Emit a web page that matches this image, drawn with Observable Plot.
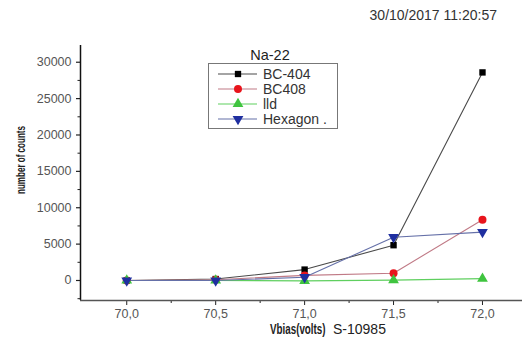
<!DOCTYPE html>
<html><head><meta charset="utf-8">
<script src="https://cdn.jsdelivr.net/npm/d3@7"></script>
<script src="https://cdn.jsdelivr.net/npm/@observablehq/plot@0.6"></script>
<style>
body{margin:0;background:#fff;}
#wrap{position:relative;width:522px;height:339px;overflow:hidden;font-family:"Liberation Sans",Arial,sans-serif;}
</style></head>
<body><div id="wrap"></div>
<script>
const vbias = [70.0, 70.5, 71.0, 71.5, 72.0];
const bc404 = [0, 200, 1500, 4850, 28600];
const bc408 = [0, 100, 700, 1000, 8350];
const lld = [0, 0, -50, 50, 250];
const hexagon = [0, 0, 450, 5950, 6650];
const seriesNames = ["BC-404", "BC408", "lld", "Hexagon ."];
const seriesValues = [bc404, bc408, lld, hexagon];
const markerColors = ["#000000", "#e8141c", "#3fc43f", "#1f2fa0"];
const lineColors = ["#4a4a4a", "#c07a86", "#5fcf5f", "#6570a8"];
const symbols = ["square", "circle", "triangle", "triangle"];
const rotations = [0, 0, 0, 180];
const xTicks = [70.0, 70.5, 71.0, 71.5, 72.0];
const xMinor = [70.25, 70.75, 71.25, 71.75, 72.25];
const yTicks = [0, 5000, 10000, 15000, 20000, 25000, 30000];
const yMinor = [-2500, 2500, 7500, 12500, 17500, 22500, 27500, 32500];
const title = "Na-22";
const stamp = "30/10/2017 11:20:57";

const rows = [];
seriesNames.forEach((s, i) => vbias.forEach((v, j) => rows.push({s, i, v, c: seriesValues[i][j]})));

const marks = [];
seriesNames.forEach((s, i) => {
  const d = rows.filter(r => r.i === i);
  marks.push(Plot.line(d, {x: "v", y: "c", stroke: lineColors[i], strokeWidth: 1.1}));
});
seriesNames.forEach((s, i) => {
  const d = rows.filter(r => r.i === i);
  marks.push(Plot.dot(d, {x: "v", y: "c", fill: markerColors[i], stroke: "none", symbol: symbols[i], rotate: rotations[i], r: i === 0 ? 3.6 : 4}));
});

const plot = Plot.plot({
  width: 522, height: 339,
  marginLeft: 80, marginRight: 0, marginTop: 45, marginBottom: 39,
  style: {fontFamily: "'Liberation Sans', Arial, sans-serif", fontSize: "12.5px", background: "#fff"},
  x: {domain: [69.74, 72.225]},
  y: {domain: [-2750, 32300]},
  marks: [
    Plot.axisY({ticks: yTicks, tickSize: 4, tickPadding: 5, label: null, tickFormat: d => String(d), fill: "#555", stroke: "#222", strokeWidth: 1.2}),
    Plot.axisY({ticks: yMinor.filter(v => v > -2750 && v < 32300), tickSize: 2.5, text: null, label: null, stroke: "#222"}),
    Plot.axisX({ticks: xTicks, tickSize: 5, tickPadding: 4, label: null, tickFormat: d => d.toFixed(1).replace(".", ","), fill: "#555", stroke: "#222"}),
    Plot.axisX({ticks: xMinor.filter(v => v < 72.225), tickSize: 3, text: null, label: null, stroke: "#222"}),
    Plot.ruleX([69.74], {stroke: "#111", strokeWidth: 1.5}),
    Plot.ruleY([-2750], {stroke: "#555", strokeWidth: 1.5}),
    ...marks
  ]
});
const wrap = document.getElementById("wrap");
wrap.appendChild(plot);

const svg = d3.select(plot);
// axis labels (condensed via horizontal scaling)
svg.append("text").attr("transform", "translate(25,160) rotate(-90) scale(0.62,1)")
  .attr("text-anchor", "middle").attr("font-size", 13).attr("fill", "#222").attr("font-weight", "bold")
  .text("number of counts");
svg.append("text").attr("transform", "translate(270,334) scale(0.7,1)").attr("text-anchor", "start").attr("font-size", 14).attr("fill", "#222")
  .attr("font-weight", "bold").text("Vbias(volts)");
svg.append("text").attr("x", 333).attr("y", 334).attr("text-anchor", "start").attr("font-size", 14).attr("fill", "#222").text("S-10985");
// timestamp
svg.append("text").attr("x", 497).attr("y", 20).attr("text-anchor", "end").attr("font-size", 14).attr("fill", "#333").text(stamp);
// title
svg.append("text").attr("x", 270).attr("y", 60).attr("text-anchor", "middle").attr("font-size", 14.5).attr("fill", "#222").text(title);
// legend
svg.append("rect").attr("x", 208.5).attr("y", 63.5).attr("width", 129).attr("height", 65).attr("fill", "#fff").attr("stroke", "#777");
seriesNames.forEach((s, i) => {
  const y = 74 + i * 15;
  svg.append("line").attr("x1", 218).attr("x2", 257).attr("y1", y).attr("y2", y).attr("stroke", lineColors[i]).attr("stroke-width", 1.1);
  const symMap = {square: d3.symbolSquare, circle: d3.symbolCircle, triangle: d3.symbolTriangle};
  svg.append("path").attr("d", d3.symbol(symMap[symbols[i]], i === 0 ? 40 : 50)())
    .attr("transform", `translate(238,${y}) rotate(${rotations[i]})`).attr("fill", markerColors[i]);
  svg.append("text").attr("x", 263).attr("y", y + 5).attr("text-anchor", "start").attr("font-size", 14).attr("fill", "#333").text(s);
});
</script></body></html>
